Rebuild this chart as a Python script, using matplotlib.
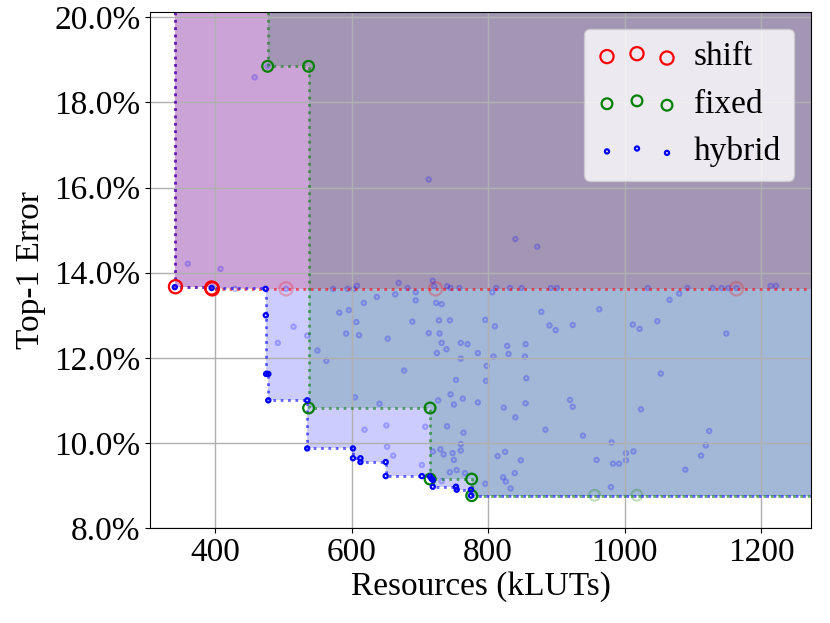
import numpy as np
import matplotlib
matplotlib.use("Agg")
import matplotlib.pyplot as plt
from matplotlib.ticker import PercentFormatter

plt.rcParams['font.family'] = ['Liberation Serif', 'DejaVu Serif']
plt.rcParams['font.size'] = 24

# Pareto-front points (kLUTs, top-1 error %)
shift_front_x = [342, 395, 396]
shift_front_y = [13.67, 13.64, 13.62]
shift_other_x = [504, 723, 1164]
shift_other_y = [13.62, 13.62, 13.62]

fixed_front_x = [477, 537, 537, 715, 715, 776, 776]
fixed_front_y = [18.85, 18.85, 10.82, 10.82, 9.15, 9.15, 8.76]
fixed_other_x = [956, 1018]
fixed_other_y = [8.77, 8.77]

hybrid_front_x = [341, 395, 474, 474.3, 474.8, 478, 478, 535, 535, 602, 602, 613, 613,
                  650, 650, 703, 715, 717, 719, 719, 753, 754, 775, 775]
hybrid_front_y = [13.66, 13.64, 13.62, 13.00, 11.62, 11.62, 11.00, 11.00, 9.87, 9.87, 9.64, 9.64, 9.55,
                  9.55, 9.22, 9.22, 9.21, 9.16, 9.13, 8.97, 8.97, 8.90, 8.90, 8.76]

# dominated hybrid configurations
hybrid_other_x = [360, 408, 429, 504, 515, 492, 535, 550, 563, 582, 596, 607, 592, 611, 618, 637,
                  653, 664, 605, 641, 619, 651, 652, 661, 573, 594, 608, 603, 669,
                  458, 477, 713, 840, 872, 719, 1214,
                  682, 721, 740, 745, 758, 812, 832, 849, 892, 901, 1034, 1092, 1129, 1142, 1152, 1164, 1222,
                  694, 806, 694, 724, 732, 1080, 1066, 963, 878, 689, 728, 744, 796, 810, 890, 899,
                  924, 1012, 1022, 1048, 1149, 713, 729, 732, 760, 770, 725, 739, 785, 760, 828,
                  855, 830, 854, 808, 798, 677, 753, 797, 856, 1053, 745, 727, 763, 750, 785, 823,
                  855, 840, 920, 924, 1024, 740, 764, 708, 884, 939, 1124, 1119, 1112, 1089, 1013,
                  1002, 1002, 992, 983, 981, 959, 980, 760, 760, 748, 750, 730, 735, 719, 825, 814,
                  848, 744, 754, 766, 839, 822, 826, 833, 796, 703, 732]
hybrid_other_y = [14.21, 14.09, 13.62, 13.62, 12.73, 12.35, 12.52, 12.17, 11.93, 13.06, 13.12, 12.84, 12.57, 12.53, 13.29, 13.43,
                  12.45, 13.49, 11.07, 10.92, 10.31, 10.41, 9.91, 9.70, 13.62, 13.62, 13.69, 13.62, 13.76,
                  18.59, 18.85, 16.19, 14.79, 14.61, 13.81, 13.69,
                  13.64, 13.68, 13.68, 13.64, 13.64, 13.64, 13.64, 13.64, 13.64, 13.64, 13.64, 13.64, 13.64, 13.64, 13.64, 13.64, 13.69,
                  13.54, 13.54, 13.35, 13.29, 13.26, 13.51, 13.36, 13.14, 13.08, 12.85, 12.88, 12.88, 12.89, 12.74, 12.76, 12.65,
                  12.77, 12.78, 12.68, 12.86, 12.57, 12.58, 12.57, 12.35, 12.35, 12.32, 12.11, 12.20, 12.11, 11.98, 12.28,
                  12.32, 12.09, 12.03, 12.03, 11.81, 11.70, 11.48, 11.46, 11.52, 11.63, 11.14, 11.00, 11.04, 10.90, 10.95, 10.83,
                  10.93, 10.60, 11.01, 10.85, 10.79, 10.39, 10.24, 10.38, 10.31, 10.17, 10.28, 9.94, 9.70, 9.37, 9.80,
                  9.76, 9.59, 9.51, 9.51, 10.01, 9.60, 8.96, 9.97, 9.82, 9.76, 9.60, 9.85, 9.73, 9.80, 9.79, 9.69,
                  9.59, 9.31, 9.36, 9.29, 9.29, 9.19, 9.09, 8.93, 9.04, 9.48, 9.10]

XLIM = (305, 1273)
YLIM = (8.0, 20.13)

fig = plt.figure(figsize=(8.3, 6.23), dpi=100)
ax = fig.add_axes([0.181, 0.1525, 0.796, 0.8285])

series = [
    ("shift", "red", shift_front_x, shift_front_y, shift_other_x, shift_other_y, 90),
    ("fixed", "green", fixed_front_x, fixed_front_y, fixed_other_x, fixed_other_y, 60),
    ("hybrid", "blue", hybrid_front_x, hybrid_front_y, hybrid_other_x, hybrid_other_y, 9),
]

# dominated areas
for name, c, fx, fy, ox, oy, s in series:
    xs = list(fx) + [XLIM[1]]
    ys = list(fy) + [fy[-1]]
    ax.fill_between(xs, ys, YLIM[1], step='post', color=c, alpha=0.2, linewidth=0)

# step fronts
for name, c, fx, fy, ox, oy, s in series:
    xs = [fx[0]] + list(fx) + [XLIM[1]]
    ys = [YLIM[1]] + list(fy) + [fy[-1]]
    ax.plot(xs, ys, drawstyle='steps-post', color=c, ls=':', lw=2, alpha=0.6)

for name, c, fx, fy, ox, oy, s in series:
    ax.scatter(ox, oy, s=s, facecolors='none', edgecolors=c, linewidths=1.6, alpha=0.25)
    ax.scatter(fx, fy, s=s, facecolors='none', edgecolors=c, linewidths=1.6, label=name, zorder=3)

ax.set_xlim(*XLIM)
ax.set_ylim(*YLIM)
ax.set_xticks([400, 600, 800, 1000, 1200])
ax.set_yticks([8, 10, 12, 14, 16, 18, 20])
ax.yaxis.set_major_formatter(PercentFormatter(xmax=100, decimals=1))
ax.grid(True, color='#b0b0b0', lw=1)
ax.set_xlabel("Resources (kLUTs)", labelpad=2)
ax.set_ylabel("Top-1 Error", labelpad=6)
ax.legend(loc='upper right', fontsize=24, scatterpoints=3, handlelength=2.4,
          handletextpad=0.5, borderpad=0.4)

fig.savefig("out.png", dpi=100)
